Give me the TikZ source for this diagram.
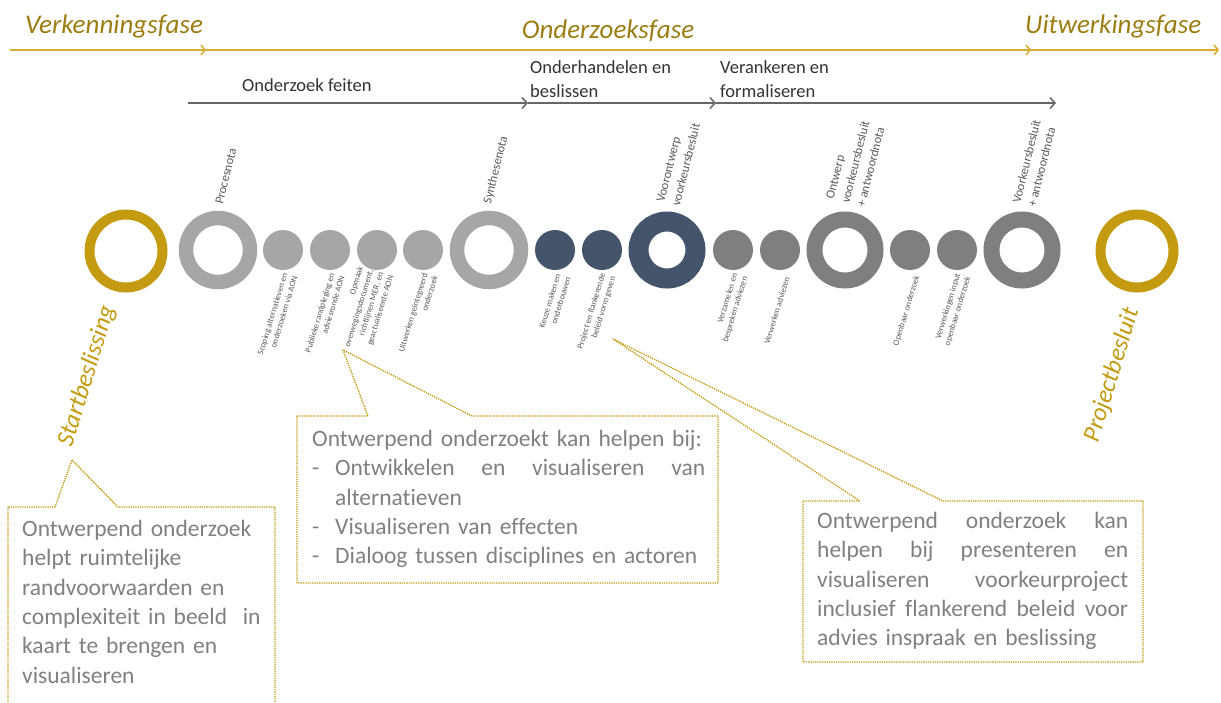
\documentclass[tikz,border=0pt]{standalone}
\usepackage{fontspec}
\setmainfont{Carlito}[Ligatures=NoCommon]
\usetikzlibrary{arrows.meta,positioning}
\definecolor{goud}{HTML}{C49A10}
\definecolor{goudtekst}{HTML}{9C7D12}
\definecolor{goudlijn}{HTML}{D8AC30}
\definecolor{lichtgrijs}{HTML}{A6A6A6}
\definecolor{middengrijs}{HTML}{7F7F7F}
\definecolor{donkerblauw}{HTML}{44546A}
\definecolor{tekstgrijs}{HTML}{808080}
\newcommand{\vol}[2]{\makebox[#1][l]{#2}}
\newcommand{\streep}{\makebox[23pt][l]{-}}

\tikzset{
  ring/.style={circle, inner sep=0pt, draw=#1},
  goudring/.style={ring=goud, line width=10pt, minimum size=73pt},
  lichtring/.style={ring=lichtgrijs, line width=14.5pt, minimum size=64pt},
  blauwring/.style={ring=donkerblauw, line width=20pt, minimum size=57pt},
  grijsring/.style={ring=middengrijs, line width=16pt, minimum size=61pt},
  stip/.style={circle, fill=#1, inner sep=0pt, minimum size=40pt},
  fase/.style={font=\fontsize{27}{30}\selectfont\itshape, text=goudtekst, inner sep=0pt},
  besluit/.style={font=\fontsize{25}{28}\selectfont\itshape, text=goud, rotate=73},
  deel/.style={font=\fontsize{18.5}{24}\selectfont, text=black!80, inner sep=0pt, align=left},
  mijlpaal/.style={rotate=76, anchor=south west, align=left, inner sep=0pt, font=\fontsize{12.5}{16}\selectfont, text=black!65},
  stap/.style={rotate=73, anchor=south east, align=right, inner sep=0pt, font=\fontsize{8.5}{10.5}\selectfont, text=black!65},
  fasepijl/.style={draw=goudlijn, line width=2.2pt, -{Straight Barb[length=4pt,width=10pt,line width=1.5pt]}},
  stappijl/.style={draw=black!60, line width=2.5pt, -{Straight Barb[length=5pt,width=11pt,line width=1.5pt]}},
  ballon/.style={draw=goud, densely dotted, line width=1.3pt, line join=round},
  uitleg/.style={font=\fontsize{23.5}{29.3}\selectfont, text=tekstgrijs, anchor=north west, align=left, inner sep=0pt}
}

\begin{document}
\begin{tikzpicture}[x=1pt, y=-1pt]
    \useasboundingbox (0,0) rectangle (1221,702);

    \coordinate (g0) at (10,50);
    \coordinate (g1) at (206,50);
    \coordinate (g2) at (1031,50);
    \coordinate (g3) at (1219,50);
    \draw[fasepijl] (g0) -- (g1);
    \draw[fasepijl] (g1) -- (g2);
    \draw[fasepijl] (g2) -- (g3);
    \node[fase, anchor=base west] (verkenning) at (25,33) {Verkenningsfase};
    \node[fase, anchor=base] (onderzoek) at (608,38) {Onderzoeksfase};
    \node[fase, anchor=base west] (uitwerking) at (1025,33) {Uitwerkingsfase};

    \coordinate (f0) at (188,103);
    \coordinate (f1) at (528,103);
    \coordinate (f2) at (716,103);
    \coordinate (f3) at (1056,103);
    \draw[stappijl] (f0) -- (f1);
    \draw[stappijl] (f1) -- (f2);
    \draw[stappijl] (f2) -- (f3);
    \node[deel, anchor=base west] (feiten) at (242,91) {Onderzoek feiten};
    \node[deel, anchor=north west] (onderhandelen) at (530,60) {Onderhandelen en\\beslissen};
    \node[deel, anchor=north west] (verankeren) at (720,60) {Verankeren en\\formaliseren};

    \node[goudring] (start) at (126,251) {};
    \node[lichtring] (procesnota) at (218,250) {};
    \foreach \x/\naam in {283/scoping,330/publiek,377/opmaak,423/uitwerken}
        \node[stip=lichtgrijs] (\naam) at (\x,250) {};
    \node[lichtring] (synthese) at (489,250) {};
    \foreach \x/\naam in {555/keuze,602/flankerend}
        \node[stip=donkerblauw] (\naam) at (\x,250) {};
    \node[blauwring] (voorontwerp) at (667,250) {};
    \foreach \x/\naam in {733/verzamelen,780/verwerken}
        \node[stip=middengrijs] (\naam) at (\x,250) {};
    \node[grijsring] (ontwerp) at (845,250) {};
    \foreach \x/\naam in {910/openbaar,957/input}
        \node[stip=middengrijs] (\naam) at (\x,250) {};
    \node[grijsring] (voorkeur) at (1022,250) {};
    \node[goudring] (project) at (1137,251) {};

    \node[mijlpaal] (lprocesnota) at (223,205) {Procesnota};
    \node[mijlpaal] (lsynthese) at (493,205) {Synthesenota};
    \node[mijlpaal] (lvoorontwerp) at (680,207) {Voorontwerp\\voorkeursbesluit};
    \node[mijlpaal] (lontwerp) at (865,208) {Ontwerp\\voorkeursbesluit\\+ antwoordnota};
    \node[mijlpaal] (lvoorkeur) at (1036,208) {Voorkeursbesluit\\+ antwoordnota};

    \node[stap] (lscoping) at (298,277) {Scoping alternatieven en\\onderzoeken via AON};
    \node[stap] (lpubliek) at (345,277) {Publieke randpleging en\\adviesronde AON};
    \node[stap] (lopmaak) at (395,277) {Opmaak\\overwegingsdocument,\\richtlijnen MER, en\\geactualiseerde AON};
    \node[stap] (luitwerken) at (438,277) {Uitwerken geïntegreerd\\onderzoek};
    \node[stap] (lkeuze) at (571,278) {Keuze maken en\\onderbouwen};
    \node[stap] (lflankerend) at (617,278) {Project en flankerende\\beleid vorm geven};
    \node[stap] (lverzamelen) at (749,278) {Verzamelen en\\bespreken adviezen};
    \node[stap] (lverwerken) at (790,278) {Verwerken adviezen};
    \node[stap] (lopenbaar) at (921,277) {Openbaar onderzoek};
    \node[stap] (linput) at (972,278) {Verwerkingen input\\openbaar onderzoek};

    \node[besluit] (lstart) at (87,376) {Startbeslissing};
    \node[besluit] (lproject) at (1112,375) {Projectbesluit};

    \draw[ballon] (8,702) -- (8,507) -- (55,507) -- (72,460) -- (118,507) -- (275,507) -- (275,702);
    \node[uitleg, text width=245pt] (uitleg1) at (22,520)
        {Ontwerpend onderzoek\\helpt ruimtelijke\\randvoorwaarden en\\complexiteit in beeld \ in\\kaart te brengen en\\visualiseren};

    \draw[ballon] (297,416) -- (368,416) -- (343,350) -- (472,416) -- (718,416) -- (718,583) -- (297,583) -- cycle;
    \node[uitleg, text width=395pt] (uitleg2) at (312,430)
        {\vol{393pt}{Ontwerpend onderzoekt kan helpen bij:}\\
         \streep\makebox[370pt]{Ontwikkelen\hfill en\hfill visualiseren\hfill van}\\
         \hspace*{23pt}alternatieven\\
         \streep Visualiseren van effecten\\
         \streep Dialoog tussen disciplines en actoren};

    \draw[ballon] (803,501) -- (860,501) -- (613,339) -- (943,501) -- (1143,501) -- (1143,662) -- (803,662) -- cycle;
    \node[uitleg, text width=315pt] (uitleg3) at (817,512)
        {\makebox[311pt]{Ontwerpend\hfill onderzoek\hfill kan}\\
         \makebox[311pt]{helpen\hfill bij\hfill presenteren\hfill en}\\
         \makebox[311pt]{visualiseren\hfill voorkeurproject}\\
         \makebox[311pt]{inclusief\hfill flankerend\hfill beleid\hfill voor}\\
         advies inspraak en beslissing};
\end{tikzpicture}
\end{document}
